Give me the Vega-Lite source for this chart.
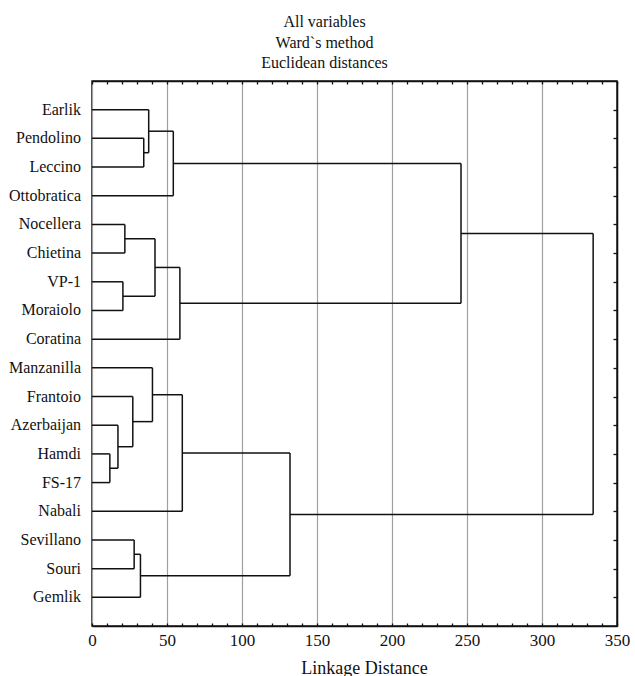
{
  "$schema": "https://vega.github.io/schema/vega-lite/v6.json",
  "width": 525,
  "height": 545,
  "autosize": {"type": "none"},
  "padding": {"left": 92, "top": 81, "right": 18, "bottom": 50},
  "background": "white",
  "config": {
    "font": "Liberation Serif",
    "view": {"stroke": "#111", "strokeWidth": 1.5},
    "axis": {"domainColor": "#111", "domainWidth": 1.5, "tickColor": "#111", "tickWidth": 1.3, "labelColor": "#111", "titleColor": "#111", "labelFont": "Liberation Serif", "titleFont": "Liberation Serif"},
    "text": {"font": "Liberation Serif"}
  },
  "title": {
    "text": ["All variables", "Ward`s method", "Euclidean distances"],
    "anchor": "middle",
    "frame": "group",
    "font": "Liberation Serif",
    "fontSize": 16,
    "fontWeight": "normal",
    "lineHeight": 20.5,
    "offset": 9,
    "dx": -30,
    "color": "#111"
  },
  "datasets": {
    "segments": [
      {"x": 0, "x2": 37.8, "y": 1, "y2": 1},
      {"x": 0, "x2": 34.5, "y": 2, "y2": 2},
      {"x": 0, "x2": 34.5, "y": 3, "y2": 3},
      {"x": 0, "x2": 54.2, "y": 4, "y2": 4},
      {"x": 0, "x2": 21.9, "y": 5, "y2": 5},
      {"x": 0, "x2": 21.9, "y": 6, "y2": 6},
      {"x": 0, "x2": 20.6, "y": 7, "y2": 7},
      {"x": 0, "x2": 20.6, "y": 8, "y2": 8},
      {"x": 0, "x2": 58.6, "y": 9, "y2": 9},
      {"x": 0, "x2": 40.3, "y": 10, "y2": 10},
      {"x": 0, "x2": 27.2, "y": 11, "y2": 11},
      {"x": 0, "x2": 17.3, "y": 12, "y2": 12},
      {"x": 0, "x2": 11.9, "y": 13, "y2": 13},
      {"x": 0, "x2": 11.9, "y": 14, "y2": 14},
      {"x": 0, "x2": 60.2, "y": 15, "y2": 15},
      {"x": 0, "x2": 28.1, "y": 16, "y2": 16},
      {"x": 0, "x2": 28.1, "y": 17, "y2": 17},
      {"x": 0, "x2": 32.3, "y": 18, "y2": 18},
      {"x": 34.5, "x2": 34.5, "y": 2, "y2": 3},
      {"x": 34.5, "x2": 37.8, "y": 2.5, "y2": 2.5},
      {"x": 37.8, "x2": 37.8, "y": 1, "y2": 2.5},
      {"x": 37.8, "x2": 54.2, "y": 1.75, "y2": 1.75},
      {"x": 54.2, "x2": 54.2, "y": 1.75, "y2": 4},
      {"x": 54.2, "x2": 246, "y": 2.875, "y2": 2.875},
      {"x": 21.9, "x2": 21.9, "y": 5, "y2": 6},
      {"x": 21.9, "x2": 42.0, "y": 5.5, "y2": 5.5},
      {"x": 20.6, "x2": 20.6, "y": 7, "y2": 8},
      {"x": 20.6, "x2": 42.0, "y": 7.5, "y2": 7.5},
      {"x": 42.0, "x2": 42.0, "y": 5.5, "y2": 7.5},
      {"x": 42.0, "x2": 58.6, "y": 6.5, "y2": 6.5},
      {"x": 58.6, "x2": 58.6, "y": 6.5, "y2": 9},
      {"x": 58.6, "x2": 246, "y": 7.75, "y2": 7.75},
      {"x": 246, "x2": 246, "y": 2.875, "y2": 7.75},
      {"x": 246, "x2": 334.1, "y": 5.3125, "y2": 5.3125},
      {"x": 11.9, "x2": 11.9, "y": 13, "y2": 14},
      {"x": 11.9, "x2": 17.3, "y": 13.5, "y2": 13.5},
      {"x": 17.3, "x2": 17.3, "y": 12, "y2": 13.5},
      {"x": 17.3, "x2": 27.2, "y": 12.75, "y2": 12.75},
      {"x": 27.2, "x2": 27.2, "y": 11, "y2": 12.75},
      {"x": 27.2, "x2": 40.3, "y": 11.875, "y2": 11.875},
      {"x": 40.3, "x2": 40.3, "y": 10, "y2": 11.875},
      {"x": 40.3, "x2": 60.2, "y": 10.9375, "y2": 10.9375},
      {"x": 60.2, "x2": 60.2, "y": 10.9375, "y2": 15},
      {"x": 60.2, "x2": 132, "y": 12.96875, "y2": 12.96875},
      {"x": 28.1, "x2": 28.1, "y": 16, "y2": 17},
      {"x": 28.1, "x2": 32.3, "y": 16.5, "y2": 16.5},
      {"x": 32.3, "x2": 32.3, "y": 16.5, "y2": 18},
      {"x": 32.3, "x2": 132, "y": 17.25, "y2": 17.25},
      {"x": 132, "x2": 132, "y": 12.96875, "y2": 17.25},
      {"x": 132, "x2": 334.1, "y": 15.109, "y2": 15.109},
      {"x": 334.1, "x2": 334.1, "y": 5.3125, "y2": 15.109}
    ],
    "leaves": [
      {"name": "Earlik", "row": 1},
      {"name": "Pendolino", "row": 2},
      {"name": "Leccino", "row": 3},
      {"name": "Ottobratica", "row": 4},
      {"name": "Nocellera", "row": 5},
      {"name": "Chietina", "row": 6},
      {"name": "VP-1", "row": 7},
      {"name": "Moraiolo", "row": 8},
      {"name": "Coratina", "row": 9},
      {"name": "Manzanilla", "row": 10},
      {"name": "Frantoio", "row": 11},
      {"name": "Azerbaijan", "row": 12},
      {"name": "Hamdi", "row": 13},
      {"name": "FS-17", "row": 14},
      {"name": "Nabali", "row": 15},
      {"name": "Sevillano", "row": 16},
      {"name": "Souri", "row": 17},
      {"name": "Gemlik", "row": 18}
    ]
  },
  "layer": [
    {
      "data": {"name": "segments"},
      "mark": {"type": "rule", "color": "#111", "strokeWidth": 1.5},
      "encoding": {
        "x": {
          "field": "x", "type": "quantitative",
          "scale": {"domain": [0, 350], "nice": false, "zero": false},
          "axis": {
            "orient": "bottom",
            "values": [0, 10, 20, 30, 40, 50, 60, 70, 80, 90, 100, 110, 120, 130, 140, 150, 160, 170, 180, 190, 200, 210, 220, 230, 240, 250, 260, 270, 280, 290, 300, 310, 320, 330, 340, 350],
            "tickSize": -3,
            "labelExpr": "datum.value % 50 === 0 ? datum.label : ''",
            "labelFontSize": 17,
            "labelPadding": 9,
            "labelFlush": false,
            "labelOverlap": false,
            "grid": true,
            "gridColor": "#a0a0a0",
            "gridWidth": 1.2,
            "gridOpacity": {"condition": {"test": "datum.value % 50 === 0", "value": 1}, "value": 0},
            "title": "Linkage Distance",
            "titleFontSize": 18,
            "titleFontWeight": "normal",
            "titlePadding": 11,
            "titleX": 272
          }
        },
        "x2": {"field": "x2"},
        "y": {
          "field": "y", "type": "quantitative",
          "scale": {"domain": [0, 19], "reverse": true, "nice": false, "zero": false},
          "axis": {
            "orient": "right",
            "values": [1, 2, 3, 4, 5, 6, 7, 8, 9, 10, 11, 12, 13, 14, 15, 16, 17, 18],
            "tickSize": -4,
            "labels": false,
            "grid": false,
            "title": null
          }
        },
        "y2": {"field": "y2"}
      }
    },
    {
      "data": {"name": "segments"},
      "mark": {"type": "rule", "opacity": 0},
      "encoding": {
        "x": {
          "field": "x2", "type": "quantitative",
          "axis": {
            "orient": "top",
            "values": [0, 10, 20, 30, 40, 50, 60, 70, 80, 90, 100, 110, 120, 130, 140, 150, 160, 170, 180, 190, 200, 210, 220, 230, 240, 250, 260, 270, 280, 290, 300, 310, 320, 330, 340, 350],
            "tickSize": -3,
            "labels": false,
            "grid": false,
            "title": null
          }
        },
        "y": {"field": "y", "type": "quantitative", "axis": null}
      }
    },
    {
      "data": {"name": "leaves"},
      "mark": {"type": "text", "align": "right", "baseline": "middle", "dx": -11, "fontSize": 16, "font": "Liberation Serif", "color": "#111"},
      "encoding": {
        "x": {"datum": 0, "type": "quantitative", "axis": null},
        "y": {"field": "row", "type": "quantitative", "axis": null},
        "text": {"field": "name"}
      }
    }
  ],
  "resolve": {"axis": {"x": "independent", "y": "independent"}}
}
